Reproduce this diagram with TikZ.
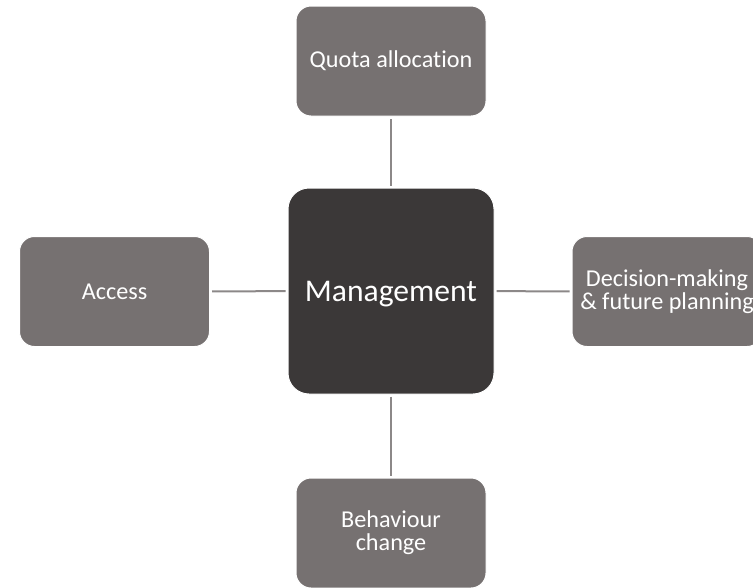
\documentclass[tikz,border=0pt]{standalone}
\usepackage{fontspec}
\setmainfont{Carlito}[Ligatures=NoCommon]
\usepackage{tikz}
\usetikzlibrary{arrows}

\definecolor{boxgray}{HTML}{767171}
\definecolor{coregray}{HTML}{3B3838}
\definecolor{linkgray}{HTML}{8C8888}

\tikzset{
  leafbox/.style={rectangle, rounded corners=15pt, fill=boxgray, draw=white, line width=1pt,
    minimum width=190pt, minimum height=110pt, text=white, align=center,
    font=\fontsize{24.2}{23}\selectfont},
  corebox/.style={rectangle, rounded corners=21pt, fill=coregray, draw=white, line width=1pt,
    minimum width=206pt, minimum height=206pt, text=white, text depth=0pt,
    font=\fontsize{31.6}{36}\selectfont},
  link/.style={draw=linkgray, line width=2pt, shorten <=2pt, shorten >=2pt}
}

\begin{document}
\begin{tikzpicture}[x=1pt,y=-1pt]
\useasboundingbox (0,0) rectangle (753,587);

\node[corebox] (mgmt) at (391,291) {Management};

\node[leafbox] (quota) at (391,61) {Quota allocation};
\node[leafbox] (access) at (114.5,291.5) {Access};
\node[leafbox] (decision) at (667,291.5) {Decision-making\\\& future planning};
\node[leafbox] (behaviour) at (391,533) {Behaviour\\change};

\draw[link] (mgmt) -- (quota);
\draw[link] (mgmt) -- (access);
\draw[link] (mgmt) -- (decision);
\draw[link] (mgmt) -- (behaviour);
\end{tikzpicture}
\end{document}
